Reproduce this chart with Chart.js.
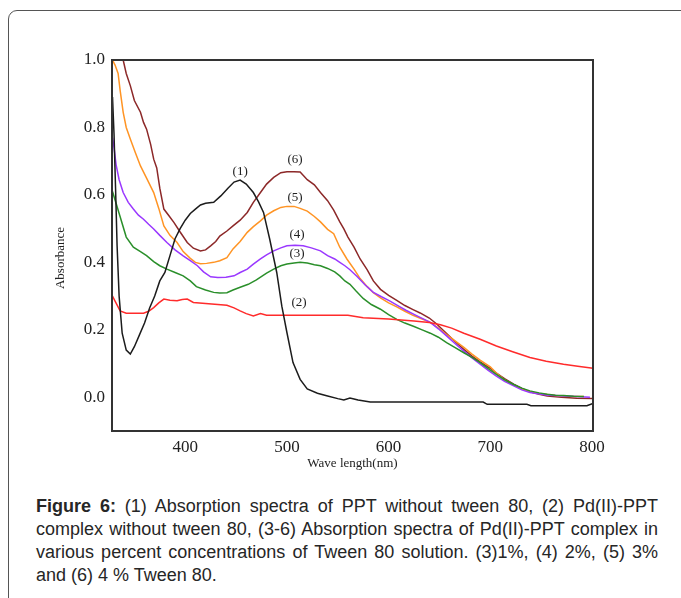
<!DOCTYPE html>
<html>
<head>
<meta charset="utf-8">
<script src="https://cdn.jsdelivr.net/npm/chart.js@4"></script>
<style>
  html, body { margin: 0; padding: 0; background: #fff; width: 681px; height: 598px; overflow: hidden; }
  #frame {
    position: absolute; left: 8px; top: 10px; width: 720px; height: 640px;
    border: 1px solid #555; border-radius: 9px; box-sizing: border-box;
  }
  #wrap { position: absolute; left: 0; top: 0; width: 681px; height: 480px; }
  #caption {
    position: absolute; left: 36px; top: 495px; width: 622px;
    font-family: "Liberation Sans", Arial, sans-serif; font-size: 18px; line-height: 23px;
    color: #262626; text-align: justify;
  }
</style>
</head>
<body>
<div id="frame"></div>
<div id="wrap"><canvas id="spectra" width="681" height="480"></canvas></div>
<div id="caption"><b>Figure 6:</b> (1) Absorption spectra of PPT without tween 80, (2) Pd(II)-PPT complex without tween 80, (3-6) Absorption spectra of Pd(II)-PPT complex in various percent concentrations of Tween 80 solution. (3)1%, (4) 2%, (5) 3% and (6) 4 % Tween 80.</div>
<script>
// [wavelength nm, absorbance]
const ppt = [
  [328.5, 0.89], [330, 0.78], [331.5, 0.62], [333, 0.45], [335, 0.30], [338, 0.19], [342, 0.14],
  [346, 0.128], [350, 0.15], [355, 0.185], [360, 0.22], [365, 0.265], [370, 0.30], [375, 0.345],
  [380, 0.37], [385, 0.42], [390, 0.47], [395, 0.50], [400, 0.525], [405, 0.545], [410, 0.558],
  [415, 0.57], [420, 0.575], [428, 0.578], [435, 0.597], [442, 0.62], [448, 0.638], [454, 0.644],
  [460, 0.632], [467, 0.607], [472, 0.58], [477, 0.548], [483, 0.47], [490, 0.37], [495, 0.27],
  [500, 0.192], [506, 0.103], [513, 0.053], [520, 0.025], [530, 0.012], [540, 0.004], [550, -0.004],
  [556, -0.008], [562, -0.002], [570, -0.008], [582, -0.014], [600, -0.014], [650, -0.014],
  [693, -0.014], [697, -0.021], [736, -0.021], [740, -0.025], [795, -0.025], [801, -0.018]
];
const pdNoTween = [
  [328.5, 0.30], [331, 0.285], [336, 0.256], [342, 0.249], [359, 0.249], [364, 0.255], [369, 0.266],
  [374, 0.28], [379, 0.291], [385, 0.288], [392, 0.286], [397, 0.29], [402, 0.291], [408, 0.281],
  [420, 0.278], [441, 0.273], [448, 0.265], [454, 0.256], [460, 0.248], [467, 0.241], [474, 0.248],
  [480, 0.243], [560, 0.243], [575, 0.236], [600, 0.232], [625, 0.226], [640, 0.222], [651, 0.215],
  [662, 0.205], [674, 0.19], [690, 0.172], [706, 0.152], [722, 0.135], [739, 0.118], [755, 0.107],
  [772, 0.098], [786, 0.092], [801, 0.086]
];
const tween1 = [
  [328.5, 0.61], [332, 0.575], [336, 0.535], [342, 0.475], [349, 0.445], [356, 0.432], [362, 0.42],
  [369, 0.402], [375, 0.39], [382, 0.38], [390, 0.37], [398, 0.36], [405, 0.345], [411, 0.328],
  [420, 0.318], [428, 0.311], [434, 0.309], [441, 0.31], [447, 0.318], [454, 0.326], [462, 0.335],
  [470, 0.348], [480, 0.368], [487, 0.38], [494, 0.39], [500, 0.395], [507, 0.398], [513, 0.4],
  [520, 0.398], [527, 0.393], [533, 0.39], [540, 0.382], [547, 0.372], [552, 0.36], [557, 0.345],
  [562, 0.335], [568, 0.315], [575, 0.293], [583, 0.275], [592, 0.261], [600, 0.245], [608, 0.231],
  [616, 0.22], [625, 0.21], [633, 0.2], [641, 0.19], [649, 0.178], [657, 0.162], [665, 0.148],
  [674, 0.132], [682, 0.118], [690, 0.103], [698, 0.085], [706, 0.068], [714, 0.052], [723, 0.038],
  [731, 0.027], [739, 0.019], [748, 0.013], [756, 0.009], [764, 0.006], [772, 0.005], [782, 0.003],
  [792, 0.002]
];
const tween2 = [
  [328.5, 0.77], [330, 0.74], [332, 0.69], [335, 0.645], [339, 0.607], [344, 0.578], [349, 0.558],
  [354, 0.54], [359, 0.528], [364, 0.513], [369, 0.499], [375, 0.48], [382, 0.459], [390, 0.437],
  [398, 0.419], [405, 0.405], [412, 0.39], [418, 0.372], [425, 0.357], [432, 0.355], [440, 0.356],
  [448, 0.36], [454, 0.37], [461, 0.38], [467, 0.395], [474, 0.41], [480, 0.422], [487, 0.434],
  [494, 0.443], [500, 0.449], [508, 0.451], [516, 0.449], [524, 0.443], [533, 0.434], [540, 0.42],
  [547, 0.41], [552, 0.4], [557, 0.39], [562, 0.378], [569, 0.358], [577, 0.333], [585, 0.311],
  [593, 0.298], [601, 0.286], [609, 0.272], [617, 0.258], [625, 0.246], [633, 0.234], [641, 0.222],
  [649, 0.203], [657, 0.182], [665, 0.16], [674, 0.137], [682, 0.117], [690, 0.098], [698, 0.08],
  [706, 0.063], [714, 0.047], [723, 0.034], [731, 0.022], [739, 0.014], [755, 0.007], [772, 0.004],
  [785, 0.002], [798, 0.0]
];
const tween3 = [
  [328.5, 1.0], [331, 0.985], [334, 0.96], [336, 0.91], [339, 0.845], [342, 0.80], [346, 0.766],
  [351, 0.725], [356, 0.686], [362, 0.65], [369, 0.607], [374, 0.56], [379, 0.508], [385, 0.48],
  [392, 0.459], [398, 0.432], [405, 0.412], [410, 0.40], [415, 0.396], [421, 0.397], [428, 0.4],
  [434, 0.405], [441, 0.414], [447, 0.44], [454, 0.462], [461, 0.489], [467, 0.506], [474, 0.523],
  [480, 0.54], [487, 0.553], [494, 0.563], [500, 0.566], [507, 0.566], [513, 0.56], [520, 0.552],
  [527, 0.536], [533, 0.52], [540, 0.498], [546, 0.485], [552, 0.445], [559, 0.41], [566, 0.38],
  [572, 0.352], [579, 0.328], [585, 0.31], [592, 0.295], [600, 0.28], [608, 0.268], [616, 0.255],
  [624, 0.243], [633, 0.232], [641, 0.222], [649, 0.205], [657, 0.186], [665, 0.168], [674, 0.148],
  [682, 0.128], [690, 0.11], [700, 0.09], [706, 0.072], [714, 0.052], [723, 0.036], [731, 0.024],
  [739, 0.016], [748, 0.011], [756, 0.008], [764, 0.005], [775, 0.003], [792, 0.002]
];
const tween4 = [
  [336, 1.06], [339, 1.0], [342, 0.96], [346, 0.924], [350, 0.88], [356, 0.845], [359, 0.815],
  [362, 0.795], [366, 0.75], [369, 0.706], [372, 0.68], [375, 0.62], [379, 0.558], [384, 0.538],
  [389, 0.518], [395, 0.49], [402, 0.459], [408, 0.442], [415, 0.434], [420, 0.437], [425, 0.449],
  [430, 0.462], [434, 0.478], [441, 0.493], [447, 0.508], [454, 0.525], [461, 0.548], [467, 0.578],
  [474, 0.607], [480, 0.632], [487, 0.652], [494, 0.666], [500, 0.669], [507, 0.669], [513, 0.668],
  [520, 0.645], [527, 0.63], [533, 0.607], [540, 0.583], [546, 0.555], [552, 0.52], [556, 0.499],
  [560, 0.475], [566, 0.445], [572, 0.41], [579, 0.378], [585, 0.345], [592, 0.32], [600, 0.302],
  [608, 0.287], [616, 0.272], [624, 0.26], [631, 0.25], [640, 0.235], [647, 0.218], [656, 0.192],
  [665, 0.166], [674, 0.142], [682, 0.122], [690, 0.105], [700, 0.086], [706, 0.072], [714, 0.055],
  [723, 0.039], [731, 0.026], [739, 0.016], [748, 0.009], [756, 0.004], [770, 0.0], [785, -0.003],
  [801, -0.004]
];

const xTicks = [400, 500, 600, 700, 800];
const yTicks = [0.0, 0.2, 0.4, 0.6, 0.8, 1.0];

// curve tags "(1)".."(6)" and where they sit (data units)
const tagText = ['(1)', '(2)', '(3)', '(4)', '(5)', '(6)'];
const tagX = [454, 512, 510, 510, 508, 508];
const tagY = [0.67, 0.28, 0.427, 0.481, 0.593, 0.706];

const serif = '"Liberation Serif", "Times New Roman", serif';

const curveLabels = {
  id: 'curveLabels',
  afterDraw(chart) {
    const { ctx, chartArea: a, scales: { x, y } } = chart;
    ctx.save();
    // plot frame
    ctx.strokeStyle = '#333';
    ctx.lineWidth = 2;
    ctx.strokeRect(a.left, a.top, a.right - a.left, a.bottom - a.top);
    // tags
    ctx.fillStyle = '#222';
    ctx.font = '13px ' + serif;
    ctx.textAlign = 'center';
    ctx.textBaseline = 'middle';
    tagText.forEach((t, i) => {
      ctx.fillText(t, x.getPixelForValue(tagX[i]), y.getPixelForValue(tagY[i]));
    });
    // y axis title
    ctx.translate(61, 258);
    ctx.rotate(-Math.PI / 2);
    ctx.fillText('Absorbance', 0, 0);
    ctx.restore();
  }
};

function line(data, color) {
  return { data, borderColor: color, borderWidth: 1.5, pointRadius: 0, tension: 0, fill: false };
}

new Chart(document.getElementById('spectra'), {
  type: 'line',
  data: {
    datasets: [
      line(ppt, '#1c1c1c'),
      line(pdNoTween, '#ff2b2b'),
      line(tween1, '#2a8f2a'),
      line(tween2, '#9a38ff'),
      line(tween3, '#ff9424'),
      line(tween4, '#8c2828')
    ]
  },
  options: {
    responsive: false,
    devicePixelRatio: 1,
    animation: false,
    layout: { padding: { left: 0, top: 60, right: 88, bottom: 0 } },
    plugins: { legend: { display: false }, tooltip: { enabled: false } },
    scales: {
      x: {
        type: 'linear',
        min: 328,
        max: 801,
        grid: { display: false, drawTicks: false },
        border: { display: false },
        afterBuildTicks: s => { s.ticks = xTicks.map(v => ({ value: v })); },
        afterFit: s => { s.height = 49; },
        ticks: { color: '#222', padding: 6, font: { family: serif, size: 17 } },
        title: {
          display: true,
          text: 'Wave length(nm)',
          color: '#222',
          padding: { top: 0, bottom: 9 },
          font: { family: serif, size: 13 }
        }
      },
      y: {
        min: -0.1,
        max: 1.0,
        grid: { display: false, drawTicks: false },
        border: { display: false },
        afterBuildTicks: s => { s.ticks = yTicks.map(v => ({ value: v })); },
        afterFit: s => { s.width = 112; },
        ticks: {
          color: '#222', padding: 7, font: { family: serif, size: 17 },
          callback: v => v.toFixed(1)
        }
      }
    }
  },
  plugins: [curveLabels]
});
</script>
</body>
</html>
